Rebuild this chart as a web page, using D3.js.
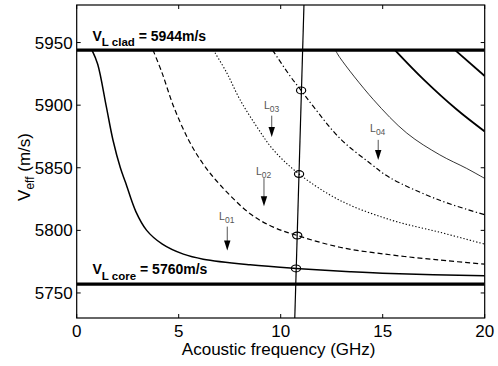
<!DOCTYPE html>
<html><head><meta charset="utf-8">
<script src="https://cdn.jsdelivr.net/npm/d3@7/dist/d3.min.js"></script>
<style>body{margin:0;background:#fff}svg{display:block}text{font-family:"Liberation Sans",Arial,sans-serif}</style>
</head><body><svg id="c" width="498" height="366"></svg>
<script>
// ---- data ----
const xTicks = [0, 5, 10, 15, 20];
const yTicks = [5750, 5800, 5850, 5900, 5950];
const vClad = 5944;
const vCoreLine = 5757;
const cladLabel = ["V", "L clad", " = 5944m/s"];
const coreLabel = ["V", "L core", " = 5760m/s"];
const L01 = [[0.75,5944],[1.03,5932.7],[1.45,5899],[1.78,5872],[2.14,5850],[2.4,5838],[2.9,5815],[3.43,5800],[4.2,5789],[5.23,5781],[6.2,5777],[8.5,5772.5],[10.75,5769.6],[13.4,5767],[15.4,5765.5],[20,5763.7]];
const L02 = [[3.74,5944],[4.18,5926],[4.75,5899],[5.49,5872],[6.2,5853],[7.02,5836.5],[8.5,5813.3],[9.64,5802.6],[10.81,5795.9],[12.9,5786.5],[15.36,5780.5],[17.8,5776.3],[20,5773]];
const L03 = [[6.7,5944],[7.35,5926],[8.0,5904.5],[8.82,5883],[9.64,5864.3],[10.9,5845],[12.9,5824],[15.36,5808.5],[17.8,5798.5],[20,5789]];
const L04 = [[9.6,5944],[10.46,5923.3],[11.0,5911.8],[11.6,5899],[12.9,5873.5],[14.38,5853.6],[15.36,5842],[17.8,5824],[20,5812.5]];
const L05 = [[12.68,5944],[12.9,5938],[14.54,5904.5],[16.18,5877.7],[17.8,5860.3],[19.1,5849.6],[20,5841.5]];
const L06 = [[15.6,5944],[17.0,5920.6],[18.63,5896.5],[20,5879]];
const L07 = [[18.55,5944],[20,5923.3]];
const workLine = [[11.14,5980],[10.69,5730]];
const crossings = [[11.0,5911.8],[10.9,5845],[10.81,5795.9],[10.75,5769.6]];
const modeNames = ["01","02","03","04"];
const labelPos = [[6.98,5808],[8.79,5844.2],[9.18,5897],[14.38,5878.2]];
const arrows = [[7.38,5803,5784],[9.18,5841.7,5819.2],[9.56,5891.6,5874.5],[14.78,5872.3,5856.2]];

// ---- layout ----
const svg = d3.select("#c");
const X0 = 76.7, X1 = 484.7, Y0 = 5, Y1 = 318;
const x = d3.scaleLinear().domain([0,20]).range([X0,X1]);
const y = d3.scaleLinear().domain([5730,5980]).range([Y1,Y0]);

svg.append("clipPath").attr("id","clip").append("rect")
  .attr("x",X0).attr("y",Y0).attr("width",X1-X0).attr("height",Y1-Y0);

const g = svg.append("g").attr("clip-path","url(#clip)");
const line = d3.line().x(d=>x(d[0])).y(d=>y(d[1])).curve(d3.curveCatmullRom.alpha(0.5));

const curves = [
  {d:L01, w:1.5, dash:null},
  {d:L02, w:1.2, dash:"5,3"},
  {d:L03, w:1.1, dash:"1.3,2"},
  {d:L04, w:1.2, dash:"5,2.5,1.3,2.5"},
  {d:L05, w:0.8, dash:null},
  {d:L06, w:1.8, dash:null},
  {d:L07, w:1.8, dash:null}
];
curves.forEach(c=>{
  g.append("path").attr("d",line(c.d)).attr("fill","none").attr("stroke","#000")
   .attr("stroke-width",c.w).attr("stroke-dasharray",c.dash);
});

// horizontal bulk velocity lines
[vClad, vCoreLine].forEach(v=>{
  g.append("line").attr("x1",X0).attr("x2",X1).attr("y1",y(v)).attr("y2",y(v))
   .attr("stroke","#000").attr("stroke-width",3.2);
});

// operating line
g.append("line").attr("x1",x(workLine[0][0])).attr("y1",y(workLine[0][1]))
 .attr("x2",x(workLine[1][0])).attr("y2",y(workLine[1][1]))
 .attr("stroke","#000").attr("stroke-width",1.2);

crossings.forEach(p=>{
  g.append("ellipse").attr("cx",x(p[0])).attr("cy",y(p[1])).attr("rx",4.6).attr("ry",3.4)
   .attr("fill","none").attr("stroke","#000").attr("stroke-width",1.2);
});

// frame & ticks (MATLAB style, inward on all sides)
const axG = svg.append("g");
axG.append("rect").attr("x",X0).attr("y",Y0).attr("width",X1-X0).attr("height",Y1-Y0)
  .attr("fill","none").attr("stroke","#000").attr("stroke-width",1.2);
const tl = 4;
xTicks.forEach(t=>{
  axG.append("line").attr("x1",x(t)).attr("x2",x(t)).attr("y1",Y1).attr("y2",Y1-tl).attr("stroke","#000");
  axG.append("line").attr("x1",x(t)).attr("x2",x(t)).attr("y1",Y0).attr("y2",Y0+tl).attr("stroke","#000");
  axG.append("text").attr("x",x(t)).attr("y",Y1+19).attr("text-anchor","middle")
    .attr("font-size",17).text(t);
});
yTicks.forEach(t=>{
  axG.append("line").attr("x1",X0).attr("x2",X0+tl).attr("y1",y(t)).attr("y2",y(t)).attr("stroke","#000");
  axG.append("line").attr("x1",X1).attr("x2",X1-tl).attr("y1",y(t)).attr("y2",y(t)).attr("stroke","#000");
  axG.append("text").attr("x",X0-4).attr("y",y(t)).attr("dy","0.36em").attr("text-anchor","end")
    .attr("font-size",17).text(t);
});

// axis titles
svg.append("text").attr("x",(X0+X1)/2-2).attr("y",355).attr("text-anchor","middle")
  .attr("font-size",17).text("Acoustic frequency (GHz)");
const yl = svg.append("text").attr("transform","translate(30,167) rotate(-90)")
  .attr("text-anchor","middle").attr("font-size",17);
yl.append("tspan").text("V");
yl.append("tspan").attr("font-size",12).attr("dy",4).text("eff");
yl.append("tspan").attr("dy",-4).text(" (m/s)");

// bulk velocity labels
function bulkLabel(parts, v, base){
  const t = svg.append("text").attr("x",92.5).attr("y",base).attr("font-size",14).attr("font-weight","bold");
  t.append("tspan").text(parts[0]);
  t.append("tspan").attr("font-size",11.5).attr("dy",5.5).text(parts[1]);
  t.append("tspan").attr("dy",-5.5).text(parts[2]);
}
bulkLabel(cladLabel, vClad, 40.7);
bulkLabel(coreLabel, vCoreLine, 274.3);

// mode labels and arrows
modeNames.forEach((m,i)=>{
  const t = svg.append("text").attr("x",x(labelPos[i][0])).attr("y",y(labelPos[i][1]))
    .attr("font-size",10.5).attr("fill","#555");
  t.append("tspan").text("L");
  t.append("tspan").attr("font-size",8.5).attr("dy",3).text(m);
  const a = arrows[i];
  const ax = x(a[0]), ay1 = y(a[1]), ay2 = y(a[2]);
  svg.append("line").attr("x1",ax).attr("x2",ax).attr("y1",ay1).attr("y2",ay2-6)
    .attr("stroke","#555").attr("stroke-width",1);
  svg.append("path").attr("d",`M${ax-3.2},${ay2-10} L${ax+3.2},${ay2-10} L${ax},${ay2} Z`)
    .attr("fill","#000");
});
</script></body></html>
